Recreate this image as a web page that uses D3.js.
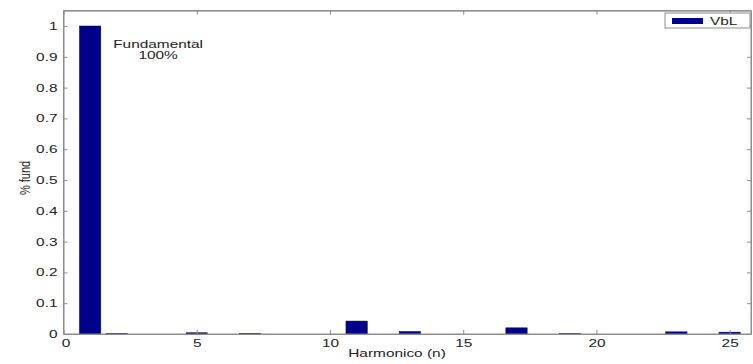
<!DOCTYPE html>
<html>
<head>
<meta charset="utf-8">
<script src="https://cdn.jsdelivr.net/npm/d3@7"></script>
<style>
  html, body { margin: 0; padding: 0; background: #fff; }
  svg { display: block; }
  text { font-family: "Liberation Sans", Arial, sans-serif; fill: #222; }
</style>
</head>
<body>
<svg id="chart" width="753" height="364"></svg>
<script>
// Harmonic spectrum of VbL, as a fraction of the fundamental
const harmonics = d3.range(1, 26);
const pctFund = [1.0, 0.001, 0, 0, 0.004, 0, 0.002, 0, 0, 0,
                 0.042, 0, 0.008, 0, 0, 0, 0.02, 0, 0.001, 0,
                 0, 0, 0.007, 0, 0.006];
const xTicks = [0, 5, 10, 15, 20, 25];
const yTicks = [0, 0.1, 0.2, 0.3, 0.4, 0.5, 0.6, 0.7, 0.8, 0.9, 1];
const yTickLabels = ["0", "0.1", "0.2", "0.3", "0.4", "0.5", "0.6", "0.7", "0.8", "0.9", "1"];
const seriesName = "VbL";
const annotation = ["Fundamental", "100%"];

const svg = d3.select("#chart");
const plotLeft = 63.5, plotRight = 751, plotTop = 10.6, plotBottom = 334;
const x = d3.scaleLinear().domain([0, 25.8]).range([plotLeft, plotRight]);
const y = d3.scaleLinear().domain([0, 1.05]).range([plotBottom, plotTop]);
const SX = 1.4;           // horizontal glyph stretch
const axisColor = "#8c8c8c";
const barColor = "#00008b";
const barW = 0.8;

// bars
svg.append("g").selectAll("rect")
  .data(harmonics.map((h, i) => ({ h, v: pctFund[i] })).filter(d => d.v > 0))
  .join("rect")
  .attr("x", d => x(d.h - barW / 2))
  .attr("width", d => x(barW) - x(0))
  .attr("y", d => y(d.v))
  .attr("height", d => y(0) - y(d.v))
  .attr("fill", barColor)
  .attr("stroke", "#00003a")
  .attr("stroke-width", 0.5);

// axes box with inward ticks on all four sides
function styleAxis(g) {
  g.selectAll(".domain").attr("stroke", axisColor);
  g.selectAll(".tick line").attr("stroke", axisColor);
  g.selectAll("text").style("font-family", "'Liberation Sans', Arial, sans-serif")
    .style("font-size", "11px").attr("fill", "#222");
}
const bottomAxis = svg.append("g").attr("transform", `translate(0,${plotBottom})`)
  .call(d3.axisBottom(x).tickValues(xTicks).tickSize(-4).tickSizeOuter(0).tickPadding(0));
styleAxis(bottomAxis);
bottomAxis.selectAll(".tick text")
  .attr("y", null).attr("dy", null)
  .attr("transform", d => (d === 0 ? "translate(2,13)" : "translate(0,13)") + ` scale(${SX},1)`);

const topAxis = svg.append("g").attr("transform", `translate(0,${plotTop})`)
  .call(d3.axisTop(x).tickValues(xTicks).tickSize(-4).tickSizeOuter(0).tickFormat(""));
styleAxis(topAxis);

const leftAxis = svg.append("g").attr("transform", `translate(${plotLeft},0)`)
  .call(d3.axisLeft(y).tickValues(yTicks).tickSize(-4).tickSizeOuter(0)
    .tickFormat((d, i) => yTickLabels[i]));
styleAxis(leftAxis);
leftAxis.selectAll(".tick text")
  .attr("x", null)
  .attr("transform", `translate(-6,0) scale(${SX},1)`);

const rightAxis = svg.append("g").attr("transform", `translate(${plotRight},0)`)
  .call(d3.axisRight(y).tickValues(yTicks).tickSize(-4).tickSizeOuter(0).tickFormat(""));
styleAxis(rightAxis);

// full box edges
svg.append("rect")
  .attr("x", plotLeft).attr("y", plotTop)
  .attr("width", plotRight - plotLeft).attr("height", plotBottom - plotTop)
  .attr("fill", "none").attr("stroke", axisColor);

// axis titles
svg.append("text")
  .attr("transform", `translate(397,357) scale(${SX},1)`)
  .attr("text-anchor", "middle").style("font-size", "11px")
  .text("Harmonico (n)");
svg.append("text")
  .attr("transform", `translate(30,178) scale(${SX},1) rotate(-90)`)
  .attr("text-anchor", "middle").style("font-size", "11px")
  .text("% fund");

// annotation on the fundamental
const ann = svg.append("text")
  .attr("transform", `translate(${x(3.55)},${y(0.93)}) scale(${SX},1)`)
  .attr("text-anchor", "middle").style("font-size", "11px");
ann.selectAll("tspan").data(annotation).join("tspan")
  .attr("x", 0).attr("dy", (d, i) => i === 0 ? 0 : 11)
  .text(d => d);

// legend
const lg = svg.append("g").attr("transform", "translate(665,13)");
lg.append("rect").attr("width", 85).attr("height", 15)
  .attr("fill", "#fff").attr("stroke", axisColor);
lg.append("rect").attr("x", 7).attr("y", 5).attr("width", 31).attr("height", 6)
  .attr("fill", barColor);
lg.append("text").attr("transform", `translate(45,12) scale(${SX},1)`)
  .style("font-size", "11px").text(seriesName);
</script>
</body>
</html>
